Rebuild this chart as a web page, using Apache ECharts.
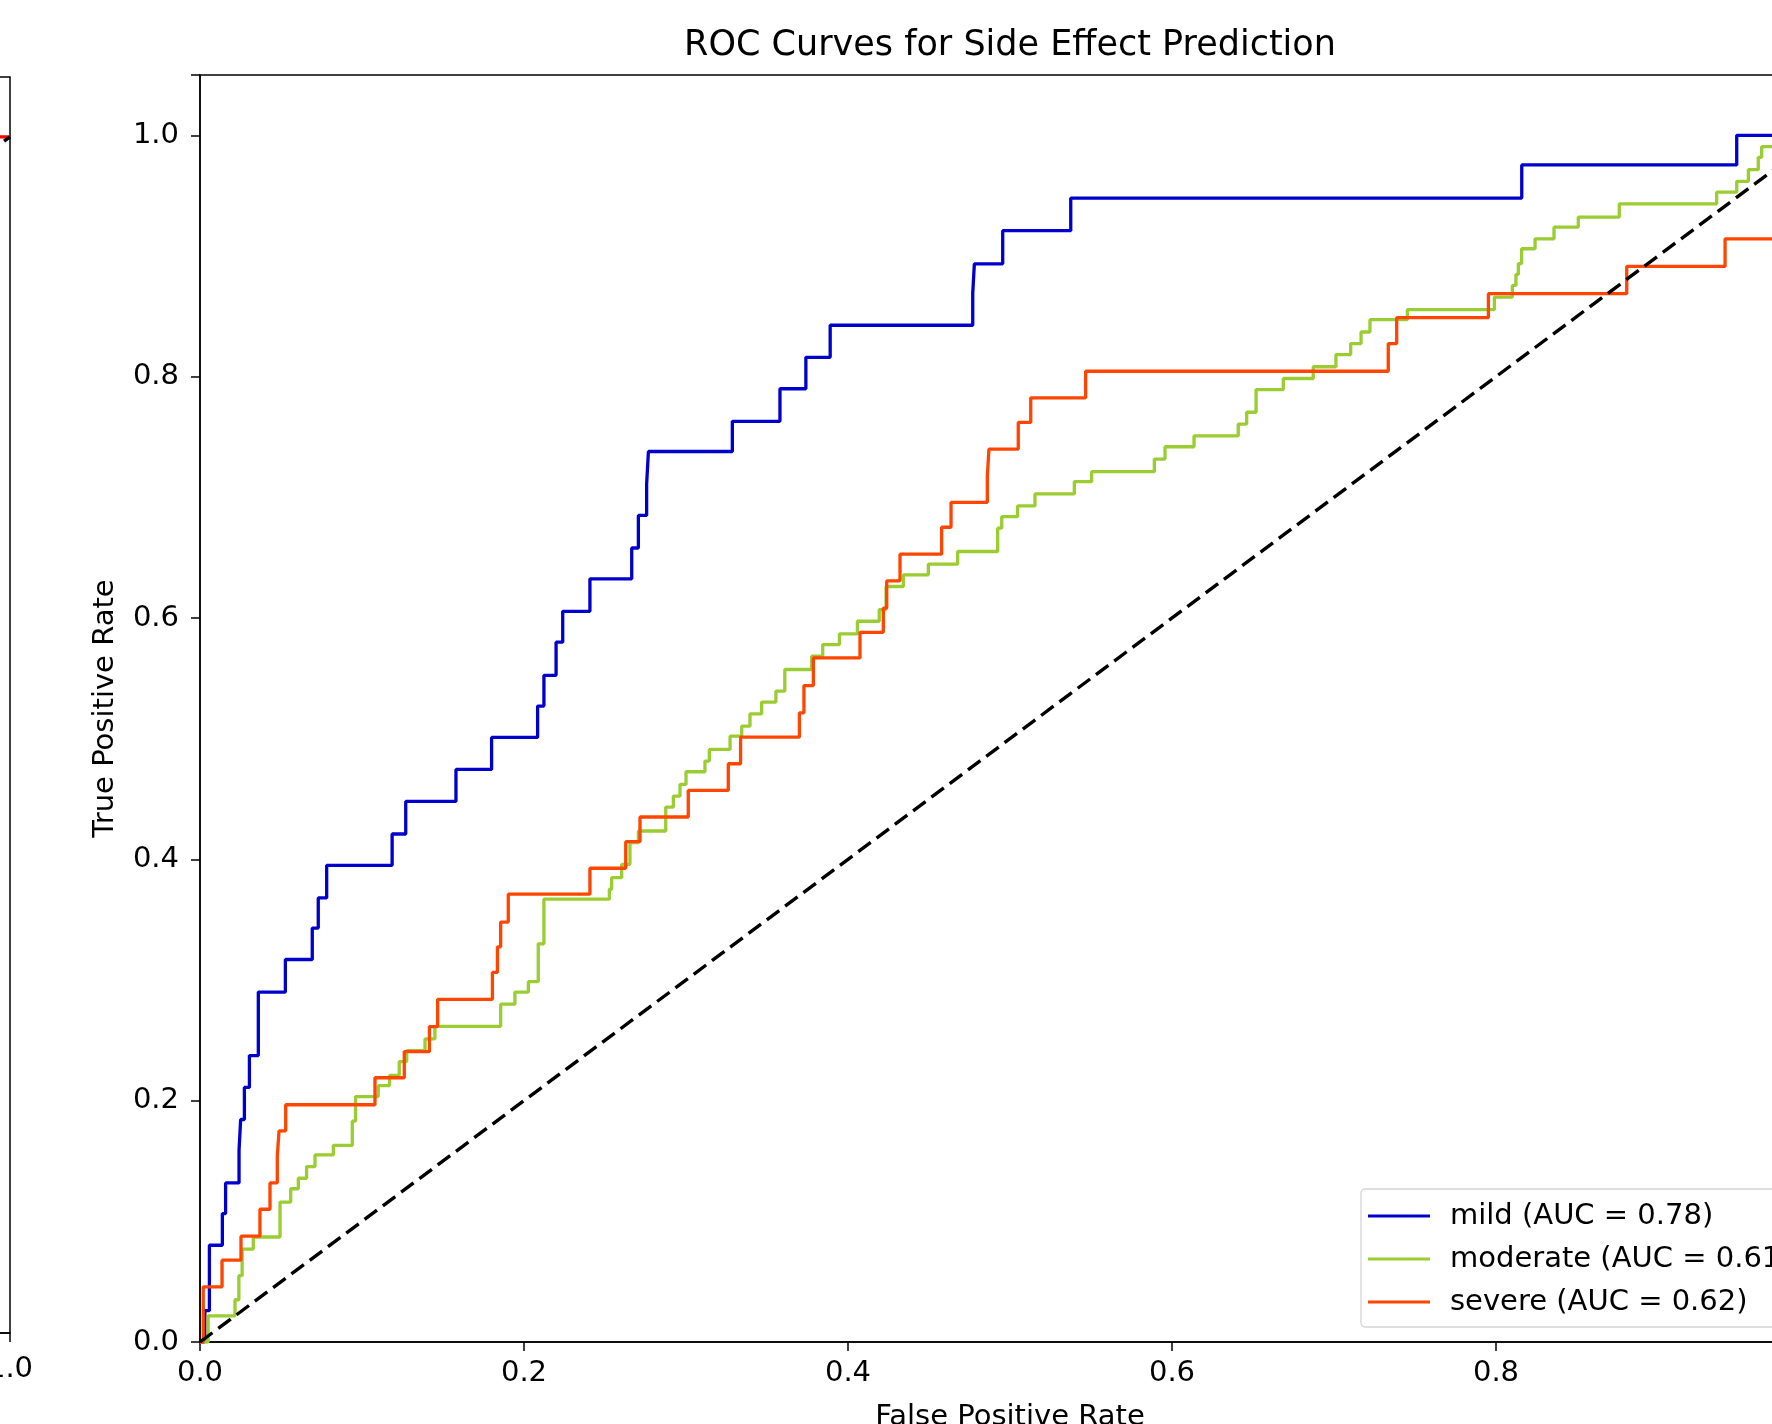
<!DOCTYPE html>
<html>
<head>
<meta charset="utf-8">
<title>ROC Curves for Side Effect Prediction</title>
<script src="https://cdn.jsdelivr.net/npm/echarts@6/dist/echarts.min.js"></script>
<style>
  html, body { margin: 0; padding: 0; background: #fff; }
  #chart { width: 1772px; height: 1424px; }
</style>
</head>
<body>
<div id="chart"></div>
<script>
// ROC points: at each fpr the curve climbs to the tpr
const mildFpr = [0, 0.003, 0.0058, 0.0138, 0.0158, 0.0241, 0.0251, 0.0274, 0.0305, 0.036,
    0.0527, 0.0693, 0.073, 0.0782, 0.1186, 0.127, 0.158, 0.180, 0.2084, 0.2123,
    0.2198, 0.2239, 0.2407, 0.2665, 0.2706, 0.2757, 0.2768, 0.3286, 0.358, 0.374,
    0.389, 0.477, 0.478, 0.4955, 0.5375, 0.8159, 0.9486, 1];
const mildTpr = [0, 0.026, 0.0802, 0.1064, 0.1318, 0.1588, 0.1844, 0.211, 0.2374, 0.290,
    0.317, 0.343, 0.368, 0.395, 0.421, 0.448, 0.4745, 0.501, 0.527, 0.5525,
    0.580, 0.6055, 0.6325, 0.658, 0.685, 0.711, 0.738, 0.763, 0.790, 0.816,
    0.8426, 0.869, 0.8935, 0.921, 0.948, 0.9755, 1.0, 1.0];

const moderateFpr = [0, 0.005, 0.0216, 0.024, 0.026, 0.0329, 0.0494, 0.056, 0.0607, 0.0658,
    0.071, 0.0823, 0.094, 0.096, 0.110, 0.117, 0.123, 0.1276, 0.1389, 0.145,
    0.1856, 0.1944, 0.2027, 0.2088, 0.2123, 0.2527, 0.2541, 0.2603, 0.2654, 0.2706,
    0.2875, 0.2922, 0.2963, 0.300, 0.3117, 0.3144, 0.3272, 0.3344, 0.3395, 0.3467,
    0.3555, 0.361, 0.3776, 0.3844, 0.3947, 0.4058, 0.4193, 0.4235, 0.4342, 0.4496,
    0.4677, 0.4924, 0.4949, 0.5047, 0.5154, 0.5397, 0.5504, 0.5891, 0.5957, 0.6136,
    0.6409, 0.6461, 0.6519, 0.6687, 0.6872, 0.7012, 0.7103, 0.7167, 0.7222, 0.7453,
    0.799, 0.8101, 0.8123, 0.8138, 0.8158, 0.8241, 0.8358, 0.8508, 0.8761, 0.9362,
    0.9486, 0.9558, 0.9619, 0.964, 0.99, 1];
const moderateTpr = [0, 0.0217, 0.035, 0.055, 0.077, 0.087, 0.116, 0.127, 0.1357, 0.1454,
    0.155, 0.163, 0.183, 0.2034, 0.2125, 0.221, 0.2324, 0.2415, 0.2512, 0.2616,
    0.280, 0.290, 0.2986, 0.33, 0.367, 0.3752, 0.3848, 0.3959, 0.4139, 0.4235,
    0.4433, 0.4524, 0.4621, 0.4726, 0.4814, 0.4911, 0.5021, 0.5104, 0.5206, 0.5303,
    0.5394, 0.5573, 0.5684, 0.578, 0.5868, 0.5973, 0.607, 0.6261, 0.6358, 0.6446,
    0.6551, 0.6744, 0.684, 0.6929, 0.7028, 0.713, 0.7213, 0.7317, 0.7419, 0.751,
    0.7607, 0.7705, 0.7893, 0.7985, 0.8082, 0.8183, 0.8274, 0.837, 0.8472, 0.8555,
    0.866, 0.8756, 0.8847, 0.8936, 0.906, 0.9142, 0.9239, 0.9322, 0.9432, 0.9529,
    0.9619, 0.9715, 0.9818, 0.9906, 1.0, 1.0];

const severeFpr = [0, 0.002, 0.0136, 0.0253, 0.037, 0.0432, 0.0477, 0.0488, 0.0529, 0.108,
    0.1261, 0.1416, 0.1467, 0.1805, 0.1836, 0.1856, 0.1903, 0.2407, 0.2628, 0.2716,
    0.3014, 0.3261, 0.3337, 0.370, 0.3728, 0.3786, 0.4074, 0.4218, 0.4239, 0.4321,
    0.4578, 0.4636, 0.486, 0.487, 0.5051, 0.5128, 0.5467, 0.7335, 0.7387, 0.7953,
    0.8807, 0.9414, 0.99, 1];
const severeTpr = [0, 0.0457, 0.0678, 0.0877, 0.110, 0.1318, 0.154, 0.175, 0.1966, 0.219,
    0.2407, 0.2614, 0.284, 0.3063, 0.3275, 0.348, 0.3711, 0.3926, 0.4146, 0.4351,
    0.4571, 0.4792, 0.5012, 0.5214, 0.544, 0.5669, 0.5881, 0.6082, 0.6308, 0.6529,
    0.6752, 0.6959, 0.7171, 0.740, 0.7621, 0.7825, 0.8045, 0.8274, 0.8489, 0.8688,
    0.8914, 0.9142, 1.0, 1.0];

const classNames = ['mild (AUC = 0.78)', 'moderate (AUC = 0.61)', 'severe (AUC = 0.62)'];
const chanceLine = [0, 1];

// panel to the left, only its right edge is inside the frame
const leftPanelX = [0.9, 1.0];
const leftPanelY = [1.0, 1.0];

const FONT = 'DejaVu Sans';
const pairs = (xs, ys) => xs.map((x, i) => [x, ys[i]]);
const fmt = v => (v > 1.001 ? '' : v.toFixed(1));

const textStyle = { fontFamily: FONT, fontSize: 29, color: '#000' };
const axisLine = { show: true, onZero: false, lineStyle: { color: '#000', width: 1.5 } };
const axisTick = { show: true, length: 9, lineStyle: { color: '#000', width: 1.5 } };

const chart = echarts.init(document.getElementById('chart'));

chart.setOption({
    animation: false,
    backgroundColor: '#fff',
    graphic: [{
        type: 'text', x: 1010, y: 46,
        style: {
            text: 'ROC Curves for Side Effect Prediction',
            font: '35px "DejaVu Sans"', fill: '#000',
            textAlign: 'center', textVerticalAlign: 'middle'
        }
    }],
    grid: [
        { left: 200, top: 75, width: 1620, height: 1267, show: true,
          borderColor: '#000', borderWidth: 1.5, outerBoundsMode: 'none', containLabel: false },
        { left: -1610, top: 77, width: 1620, height: 1256, show: true,
          borderColor: '#000', borderWidth: 1.5, outerBoundsMode: 'none', containLabel: false }
    ],
    legend: {
        data: classNames,
        orient: 'vertical',
        left: 1361, top: 1189,
        padding: [12, 10, 10, 7],
        itemGap: 13,
        itemWidth: 62, itemHeight: 3,
        icon: 'rect',
        backgroundColor: 'rgba(255,255,255,0.8)',
        borderColor: '#d4d4d4', borderWidth: 1.3, borderRadius: 4,
        formatter: name => '{gap|}' + name,
        textStyle: {
            fontFamily: FONT, fontSize: 29, color: '#000', lineHeight: 30,
            rich: { gap: { width: 15 } }
        }
    },
    xAxis: [
        { type: 'value', gridIndex: 0, min: 0, max: 1, interval: 0.2,
          name: 'False Positive Rate', nameLocation: 'middle', nameGap: 61,
          nameTextStyle: textStyle,
          axisLine, axisTick,
          axisLabel: Object.assign({ margin: 17, formatter: fmt }, textStyle),
          splitLine: { show: false } },
        { type: 'value', gridIndex: 1, min: 0, max: 1, interval: 0.2,
          axisLine, axisTick,
          axisLabel: Object.assign({ margin: 22, formatter: fmt }, textStyle),
          splitLine: { show: false } }
    ],
    yAxis: [
        { type: 'value', gridIndex: 0, min: 0, max: 1.05, interval: 0.2,
          name: 'True Positive Rate', nameLocation: 'middle', nameGap: 80, nameRotate: 90,
          nameTextStyle: textStyle,
          axisLine, axisTick,
          axisLabel: Object.assign({ margin: 21, formatter: fmt }, textStyle),
          splitLine: { show: false } },
        { type: 'value', gridIndex: 1, min: 0, max: 1.05, interval: 0.2,
          axisLine, axisTick,
          axisLabel: { show: false },
          splitLine: { show: false } }
    ],
    series: [
        { name: classNames[0], type: 'line', step: 'end', xAxisIndex: 0, yAxisIndex: 0,
          data: pairs(mildFpr, mildTpr), showSymbol: false, symbol: 'none',
          itemStyle: { color: '#0000cd' }, lineStyle: { color: '#0000cd', width: 3.3 } },
        { name: classNames[1], type: 'line', step: 'end', xAxisIndex: 0, yAxisIndex: 0,
          data: pairs(moderateFpr, moderateTpr), showSymbol: false, symbol: 'none',
          itemStyle: { color: '#9acd32' }, lineStyle: { color: '#9acd32', width: 3.3 } },
        { name: classNames[2], type: 'line', step: 'end', xAxisIndex: 0, yAxisIndex: 0,
          data: pairs(severeFpr, severeTpr), showSymbol: false, symbol: 'none',
          itemStyle: { color: '#ff4500' }, lineStyle: { color: '#ff4500', width: 3.3 } },
        { name: 'chance', type: 'line', xAxisIndex: 0, yAxisIndex: 0,
          data: pairs(chanceLine, chanceLine), showSymbol: false, symbol: 'none',
          lineStyle: { color: '#000', width: 3.4, type: [15.5, 7.3] } },
        { name: 'left red', type: 'line', xAxisIndex: 1, yAxisIndex: 1,
          data: pairs(leftPanelX, leftPanelY), showSymbol: false, symbol: 'none',
          lineStyle: { color: '#ff0000', width: 3.3 } },
        { name: 'left chance', type: 'line', xAxisIndex: 1, yAxisIndex: 1,
          data: pairs(chanceLine, chanceLine), showSymbol: false, symbol: 'none',
          lineStyle: { color: '#000', width: 3.4, type: [15.5, 7.3] } }
    ]
});
</script>
</body>
</html>
